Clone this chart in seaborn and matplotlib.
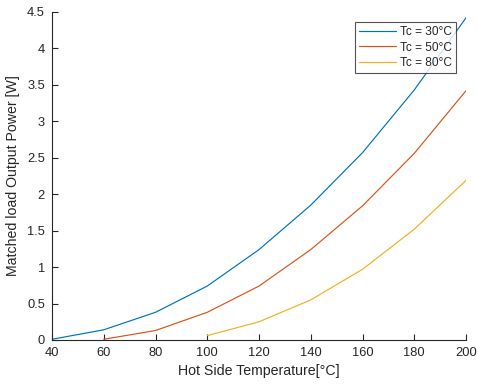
import matplotlib
matplotlib.use("Agg")
import matplotlib.pyplot as plt
import seaborn as sns
import pandas as pd

# Hot side temperature [°C] and matched-load output power [W] per cold side temperature
hot_temps_30 = [40, 60, 80, 100, 120, 140, 160, 180, 200]
power_30 = [0.01, 0.14, 0.38, 0.74, 1.24, 1.85, 2.57, 3.43, 4.42]

hot_temps_50 = [60, 80, 100, 120, 140, 160, 180, 200]
power_50 = [0.01, 0.13, 0.38, 0.74, 1.24, 1.84, 2.56, 3.42]

hot_temps_80 = [100, 120, 140, 160, 180, 200]
power_80 = [0.06, 0.25, 0.55, 0.97, 1.52, 2.19]

series_labels = ["Tc = 30°C", "Tc = 50°C", "Tc = 80°C"]
series_colors = ["#0072BD", "#D95319", "#EDB120"]

x_ticks = [40, 60, 80, 100, 120, 140, 160, 180, 200]
y_ticks = [0, 0.5, 1, 1.5, 2, 2.5, 3, 3.5, 4, 4.5]
y_tick_labels = ["0", "0.5", "1", "1.5", "2", "2.5", "3", "3.5", "4", "4.5"]

frames = []
for label, xs, ys in zip(series_labels,
                         [hot_temps_30, hot_temps_50, hot_temps_80],
                         [power_30, power_50, power_80]):
    frames.append(pd.DataFrame({"T_hot": xs, "P": ys, "series": label}))
df = pd.concat(frames, ignore_index=True)

sns.set_style("white")
plt.rcParams["font.family"] = ["Liberation Sans", "DejaVu Sans"]

text_color = "#262626"
fig = plt.figure(figsize=(4.78, 3.87), dpi=100)
ax = fig.add_axes([52 / 478, 1 - 340 / 387, (466 - 52) / 478, (340 - 12) / 387])

sns.lineplot(data=df, x="T_hot", y="P", hue="series", hue_order=series_labels,
             palette=series_colors, linewidth=0.85, ax=ax, legend=True)

ax.set_xlim(40, 200)
ax.set_ylim(0, 4.5)
ax.set_xticks(x_ticks)
ax.set_xticklabels([str(v) for v in x_ticks])
ax.set_yticks(y_ticks)
ax.set_yticklabels(y_tick_labels)
ax.tick_params(axis="both", which="major", direction="in", length=4, width=0.8,
               bottom=True, left=True, top=False, right=False,
               colors=text_color, labelsize=9.3, labelcolor=text_color, pad=5)
ax.set_xlabel("Hot Side Temperature[°C]", fontsize=10.2, color=text_color, labelpad=4)
ax.set_ylabel("Matched load Output Power [W]", fontsize=10.2, color=text_color, labelpad=5)

for side in ["top", "right"]:
    ax.spines[side].set_visible(False)
for side in ["left", "bottom"]:
    ax.spines[side].set_color(text_color)
    ax.spines[side].set_linewidth(0.8)

leg = ax.legend(loc="upper right", bbox_to_anchor=(0.976, 0.97), fontsize=8.6,
                frameon=True, fancybox=False, edgecolor=text_color,
                handlelength=3.1, handletextpad=0.3, borderpad=0.35,
                labelspacing=0.3, borderaxespad=0)
leg.get_frame().set_linewidth(0.8)
for t in leg.get_texts():
    t.set_color(text_color)

fig.savefig("out.png", dpi=100)
